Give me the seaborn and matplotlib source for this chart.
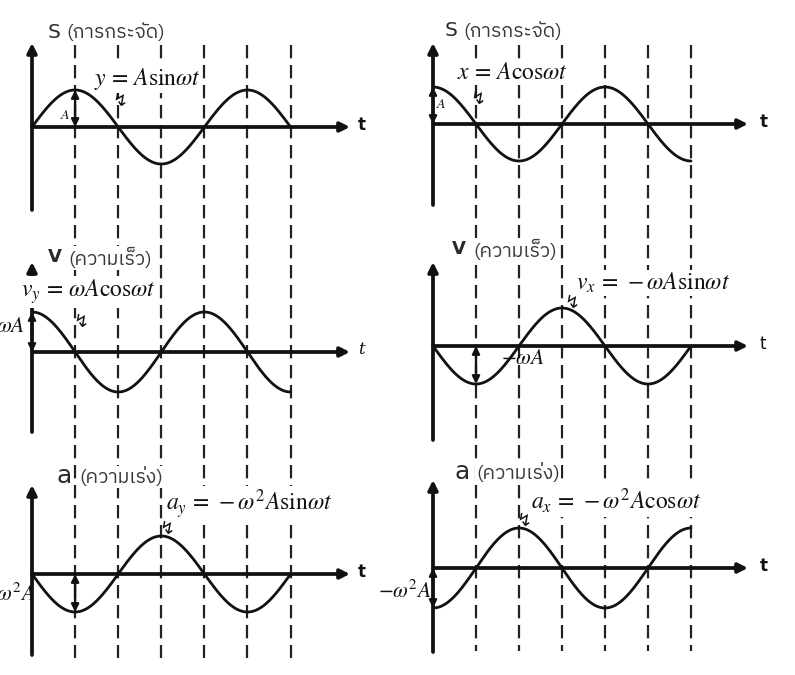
import numpy as np
import pandas as pd
import matplotlib
matplotlib.use("Agg")
import matplotlib.pyplot as plt
import seaborn as sns
from matplotlib import font_manager

# ---------------- data ----------------
# panel order: left column (y = A sin wt family) top->bottom, right column (x = A cos wt family)
quantity_letters = ["S", "V", "a", "S", "V", "a"]
quantity_thai = ["(การกระจัด)", "(ความเร็ว)", "(ความเร่ง)",
                 "(การกระจัด)", "(ความเร็ว)", "(ความเร่ง)"]
equations = [r"$y\,=\,A\mathrm{sin}\omega t$",
             r"$v_y\,=\,\omega A\mathrm{cos}\omega t$",
             r"$a_y\,=\,-\omega^2 A\mathrm{sin}\omega t$",
             r"$x\,=\,A\mathrm{cos}\omega t$",
             r"$v_x\,=\,-\omega A\mathrm{sin}\omega t$",
             r"$a_x\,=\,-\omega^2 A\mathrm{cos}\omega t$"]
amp_labels = [r"$A$", r"$\omega A$", r"$-\omega^2 A$",
              r"$A$", r"$-\omega A$", r"$-\omega^2 A$"]
wave_sign = [1, 1, -1, 1, -1, -1]          # +sin/+cos or -sin/-cos
wave_phase_quarters = [0, 1, 0, 1, 0, 1]   # 0 -> sin, 1 -> cos (shift of a quarter period)
amp_arrow_t = [1, 0, 1, 0, 1, 0]           # where the amplitude arrow is drawn (quarter periods)
quarter_ticks = [1, 2, 3, 4, 5, 6]         # dashed guide lines (quarter periods)
t_end = 6                                  # curves span 1.5 periods

# ---------------- fonts ----------------
def find_thai_font():
    try:
        from fontTools.ttLib import TTFont
    except Exception:
        return None
    cands = []
    for f in font_manager.fontManager.ttflist:
        try:
            tt = TTFont(f.fname, lazy=True, fontNumber=0)
            cmap = tt.getBestCmap()
            if cmap and 0x0E01 in cmap:
                cands.append(f.name)
        except Exception:
            pass
    if not cands:
        return None
    pref = [c for c in cands if "Thai" in c] + [c for c in cands if "Sans" in c] + cands
    return pref[0]

sns.set_theme(style="white")
plt.rcParams["font.family"] = ["DejaVu Sans"]
plt.rcParams["mathtext.fontset"] = "stix"
thai = find_thai_font()
thai_family = [thai, "DejaVu Sans"] if thai else ["DejaVu Sans"]

W, H = 795, 675
fig = plt.figure(figsize=(W / 100, H / 100), dpi=100)
fig.patch.set_facecolor("white")

def frac(x, y):
    return x / W, 1 - y / H

white_box = dict(boxstyle="square,pad=0.05", facecolor="white", edgecolor="none")

# ---------------- layout (pixels) ----------------
cols = [dict(L=0, R=397, x0=32, q=43.1, dash_top=45, dash_bot=658, arrow_end=350, t_lab=358),
        dict(L=397, R=795, x0=433, q=43.0, dash_top=45, dash_bot=651, arrow_end=748, t_lab=760)]
rows = [dict(top=0, bot=232), dict(top=232, bot=452), dict(top=452, bot=675)]
panel_geo = [  # base (x-axis y px), amplitude px, y-axis tip px, y-axis bottom px
    dict(base=127, amp=37, tip=43, yb=210),
    dict(base=352, amp=40, tip=262, yb=432),
    dict(base=574, amp=38, tip=485, yb=655),
    dict(base=124, amp=37, tip=43, yb=205),
    dict(base=346, amp=38, tip=262, yb=440),
    dict(base=568, amp=40, tip=480, yb=652),
]
title_pos = [(48, 32, 66), (48, 257, 68), (56, 476, 79),
             (445, 31, 463), (452, 249, 473), (455, 472, 476)]
eq_pos = [(94, 79), (21, 292), (166, 504), (457, 72), (576, 283), (531, 501)]
amp_lab_pos = [(60, 115, "left", 10), (25, 326, "right", 15.5), (36, 594, "right", 15.5),
               (436, 104, "left", 10), (501, 358, "left", 15.5), (432, 591, "right", 15.5)]
squiggle_pos = [(120, 101), (478, 99), (81, 322), (572, 303), (167, 529), (524, 521)]
t_style = [dict(fontweight="bold"), dict(fontstyle="italic", family="DejaVu Serif"),
           dict(fontweight="bold"), dict(fontweight="bold"), dict(), dict(fontweight="bold")]

# dashed guides: one overlay axis per column
for c in cols:
    ax = fig.add_axes([c["L"] / W, 0, (c["R"] - c["L"]) / W, 1])
    ax.set_xlim((c["L"] - c["x0"]) / c["q"], (c["R"] - c["x0"]) / c["q"])
    ax.set_ylim(H, 0)
    ax.axis("off")
    ax.vlines(quarter_ticks, c["dash_top"], c["dash_bot"], colors="#222222",
              linestyles=(0, (6, 3)), lw=1.6)

t = np.linspace(0, t_end, 400)
for i in range(6):
    c = cols[i // 3]
    r = rows[i % 3]
    g = panel_geo[i]
    ax = fig.add_axes([c["L"] / W, 1 - r["bot"] / H, (c["R"] - c["L"]) / W, (r["bot"] - r["top"]) / H])
    ax.patch.set_alpha(0)
    ax.set_xlim((c["L"] - c["x0"]) / c["q"], (c["R"] - c["x0"]) / c["q"])
    ax.set_ylim(-(r["bot"] - g["base"]) / g["amp"], (g["base"] - r["top"]) / g["amp"])
    ax.axis("off")

    vals = wave_sign[i] * np.sin(np.pi / 2 * (t + wave_phase_quarters[i]))
    df = pd.DataFrame({"t": t, "value": vals})
    sns.lineplot(data=df, x="t", y="value", ax=ax, color="#111111", lw=2.0, sort=False)

    # axes with arrows
    x_end = (c["arrow_end"] - c["x0"]) / c["q"]
    ax.annotate("", xy=(x_end, 0), xytext=(0, 0), annotation_clip=False,
                arrowprops=dict(arrowstyle="-|>", lw=2.7, color="#111111",
                                mutation_scale=14, shrinkA=0, shrinkB=0))
    y_tip = (g["base"] - g["tip"]) / g["amp"]
    y_bot = -(g["yb"] - g["base"]) / g["amp"]
    ax.annotate("", xy=(0, y_tip), xytext=(0, y_bot), annotation_clip=False,
                arrowprops=dict(arrowstyle="-|>", lw=2.7, color="#111111",
                                mutation_scale=14, shrinkA=0, shrinkB=0))
    # amplitude arrow
    ta = amp_arrow_t[i]
    peak = wave_sign[i] * np.sin(np.pi / 2 * (ta + wave_phase_quarters[i]))
    ax.annotate("", xy=(ta, peak), xytext=(ta, 0), annotation_clip=False,
                arrowprops=dict(arrowstyle="<|-|>", lw=1.7, color="#111111",
                                mutation_scale=11, shrinkA=0, shrinkB=0))

    # texts
    tx, ty, thx = title_pos[i]
    letter = quantity_letters[i]
    fs_letter = {"S": 14.5, "V": 13, "a": 18}[letter]
    fw_letter = "bold" if letter == "V" else "normal"
    fig.text(*frac(tx, ty), letter, fontsize=fs_letter, fontweight=fw_letter,
             color="#2a2a2a", ha="left", va="center", bbox=white_box)
    fig.text(*frac(thx, ty + 1), quantity_thai[i], fontsize=14, color="#3a3a3a",
             ha="left", va="center", family=thai_family, bbox=white_box)
    sx, sy = squiggle_pos[i]
    fig.text(*frac(sx, sy), "\u21af", fontsize=13, color="#111111", ha="center", va="center",
             family=["DejaVu Sans"])
    ex, ey = eq_pos[i]
    fig.text(*frac(ex, ey), equations[i], fontsize=17, color="#111111", ha="left", va="center",
             bbox=white_box)
    axl, ayl, aha, afs = amp_lab_pos[i]
    fig.text(*frac(axl, ayl), amp_labels[i], fontsize=afs, color="#111111", ha=aha, va="center")
    fig.text(*frac(c["t_lab"], g["base"] - 2), "t", fontsize=12, color="#111111",
             ha="left", va="center", **t_style[i])

fig.savefig("out.png", dpi=100, facecolor="white")
